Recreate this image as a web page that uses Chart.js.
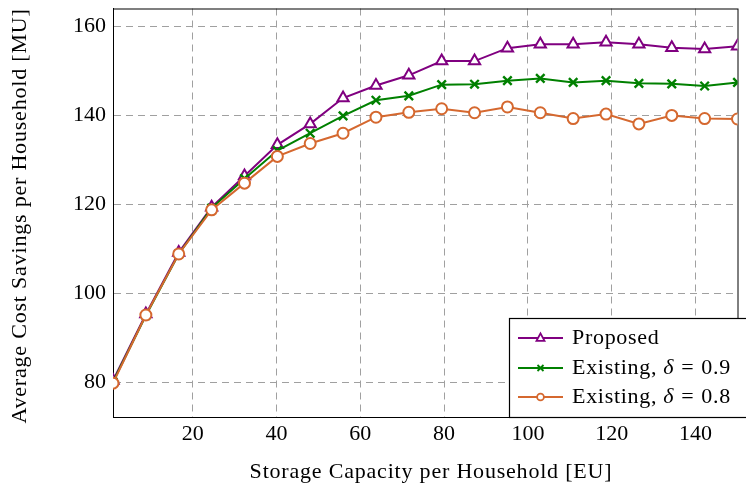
<!DOCTYPE html>
<html>
<head>
<meta charset="utf-8">
<script src="https://cdn.jsdelivr.net/npm/chart.js@4.4.1/dist/chart.umd.min.js"></script>
<style>
  html, body { margin: 0; padding: 0; background: #fff; }
  #wrap { width: 746px; height: 486px; position: relative; }
</style>
</head>
<body>
<div id="wrap"><canvas id="c" width="746" height="486"></canvas></div>
<script>
// ---- data ----
const capacity = [1, 8.84, 16.68, 24.53, 32.37, 40.21, 48.05, 55.89, 63.74, 71.58, 79.42, 87.26, 95.11, 102.95, 110.79, 118.63, 126.47, 134.32, 142.16, 150];
const proposed = [80.5, 95.4, 109.2, 119.4, 126.4, 133.4, 138.1, 143.9, 146.7, 149.0, 152.2, 152.2, 155.1, 156.0, 156.0, 156.4, 156.0, 155.2, 154.9, 155.5];
const existing09 = [80.2, 95.1, 108.9, 119.2, 125.8, 132.1, 136.0, 139.9, 143.4, 144.4, 146.9, 147.0, 147.8, 148.3, 147.4, 147.8, 147.2, 147.1, 146.6, 147.4];
const existing08 = [79.9, 95.2, 108.9, 118.8, 124.8, 130.8, 133.7, 136.0, 139.6, 140.7, 141.5, 140.6, 141.9, 140.6, 139.3, 140.3, 138.1, 140.0, 139.3, 139.2];
const xTicks = [20, 40, 60, 80, 100, 120, 140];
const yTicks = [80, 100, 120, 140, 160];
const xTitle = 'Storage Capacity per Household [EU]';
const yTitle = 'Average Cost Savings per Household [MU]';
const legendEntries = [
  { parts: [['Proposed', false]], color: '#800080', marker: 'triangle' },
  { parts: [['Existing, ', false], ['δ', true], ['=', false, 7], ['0.9', false, 7]], color: '#008000', marker: 'cross' },
  { parts: [['Existing, ', false], ['δ', true], ['=', false, 7], ['0.8', false, 7]], color: '#d5682f', marker: 'circle' }
];

const FONT = "'Liberation Serif', 'Times New Roman', serif";
const pts = (ys) => capacity.map((x, i) => ({ x: x, y: ys[i] }));

const framePlugin = {
  id: 'frame',
  beforeDatasetsDraw(chart) {
    const { ctx, chartArea: a } = chart;
    ctx.save();
    ctx.strokeStyle = '#000';
    ctx.lineWidth = 1;
    ctx.strokeRect(a.left + 0.5, a.top + 0.5, a.right - a.left, a.bottom - a.top);
    ctx.restore();
  },
  afterDraw(chart) {
    const { ctx, chartArea: a } = chart;
    ctx.save();
    // axis titles
    ctx.fillStyle = '#000';
    ctx.font = '22px ' + FONT;
    ctx.letterSpacing = '0.8px';
    ctx.textAlign = 'center';
    ctx.textBaseline = 'middle';
    ctx.fillText(xTitle, 431, 472);
    ctx.translate(20, 216);
    ctx.rotate(-Math.PI / 2);
    ctx.fillText(yTitle, 0, 0);
    ctx.restore();

    // legend
    ctx.save();
    const bx = 509, by = 318, bw = 260, bh = a.bottom - by;
    ctx.fillStyle = '#fff';
    ctx.fillRect(bx, by, bw, bh);
    ctx.strokeStyle = '#000';
    ctx.lineWidth = 1.2;
    ctx.strokeRect(bx + 0.5, by + 0.5, bw, bh);
    const rows = [338, 368, 397];
    legendEntries.forEach((e, i) => {
      const y = rows[i];
      ctx.strokeStyle = e.color;
      ctx.lineWidth = 2;
      ctx.beginPath();
      ctx.moveTo(518, y); ctx.lineTo(563, y);
      ctx.stroke();
      drawMarker(ctx, e.marker, 540.5, y, e.color, 4);
      let tx = 572;
      ctx.fillStyle = '#000';
      ctx.textAlign = 'left';
      ctx.textBaseline = 'middle';
      ctx.letterSpacing = '0.7px';
      e.parts.forEach(([t, it, gap]) => {
        ctx.font = (it ? 'italic ' : '') + '22px ' + FONT;
        tx += gap || 0;
        ctx.fillText(t, tx, y);
        tx += ctx.measureText(t).width;
      });
    });
    ctx.restore();
  }
};

function drawMarker(ctx, kind, x, y, color, r) {
  ctx.save();
  ctx.strokeStyle = color;
  ctx.lineWidth = 1.8;
  ctx.fillStyle = '#fff';
  ctx.beginPath();
  if (kind === 'triangle') {
    ctx.moveTo(x, y - r * 1.15);
    ctx.lineTo(x + r, y + r * 0.7);
    ctx.lineTo(x - r, y + r * 0.7);
    ctx.closePath();
    ctx.fill(); ctx.stroke();
  } else if (kind === 'circle') {
    ctx.arc(x, y, r * 0.85, 0, Math.PI * 2);
    ctx.fill(); ctx.stroke();
  } else {
    const d = r * 0.75;
    ctx.moveTo(x - d, y - d); ctx.lineTo(x + d, y + d);
    ctx.moveTo(x + d, y - d); ctx.lineTo(x - d, y + d);
    ctx.stroke();
  }
  ctx.restore();
}

const gridCfg = { color: '#a0a0a0', lineWidth: 1, drawTicks: false };

new Chart(document.getElementById('c'), {
  type: 'scatter',
  data: {
    datasets: [
      { label: 'Proposed', data: pts(proposed), showLine: true, borderColor: '#800080', backgroundColor: '#fff',
        borderWidth: 2, pointStyle: 'triangle', pointRadius: 6.5, pointBorderWidth: 2, order: 2 },
      { label: 'Existing, δ = 0.9', data: pts(existing09), showLine: true, borderColor: '#008000', backgroundColor: '#008000',
        borderWidth: 2, pointStyle: 'crossRot', pointRadius: 6, pointBorderWidth: 2.4, order: 1 },
      { label: 'Existing, δ = 0.8', data: pts(existing08), showLine: true, borderColor: '#d5682f', backgroundColor: '#fff',
        borderWidth: 2, pointStyle: 'circle', pointRadius: 5.5, pointBorderWidth: 2, order: 0 }
    ]
  },
  options: {
    responsive: false,
    animation: false,
    layout: { padding: { top: 7, right: 0, left: 0, bottom: 0 } },
    plugins: { legend: { display: false }, tooltip: { enabled: false } },
    scales: {
      x: {
        type: 'linear', min: 1, max: 150,
        afterBuildTicks: (s) => { s.ticks = xTicks.map(v => ({ value: v })); },
        afterFit: (s) => { s.height = 69; s.paddingLeft = 0; s.paddingRight = 0; },
        grid: gridCfg,
        border: { display: true, color: '#000', dash: [7, 5] },
        ticks: { color: '#000', font: { family: FONT, size: 22 }, padding: 4, maxRotation: 0, autoSkip: false },
      },
      y: {
        type: 'linear', min: 72.3, max: 164,
        afterBuildTicks: (s) => { s.ticks = yTicks.map(v => ({ value: v })); },
        afterFit: (s) => { s.width = 113; s.paddingTop = 0; s.paddingBottom = 0; },
        grid: gridCfg,
        border: { display: true, color: '#000', dash: [7, 5] },
        ticks: { color: '#000', font: { family: FONT, size: 22 }, padding: 7 },
      }
    }
  },
  plugins: [framePlugin]
});
</script>
</body>
</html>
